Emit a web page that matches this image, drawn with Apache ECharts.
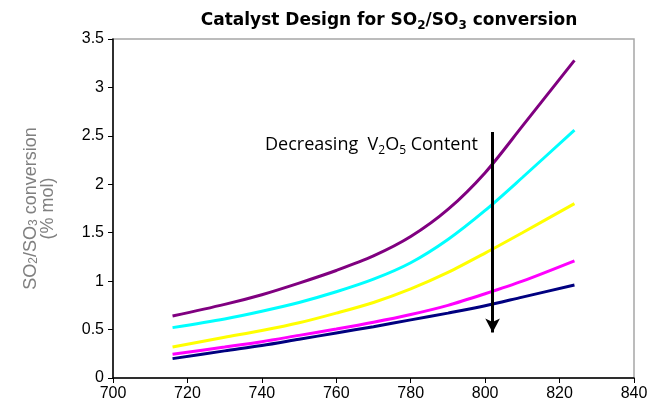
<!DOCTYPE html>
<html>
<head>
<meta charset="utf-8">
<script src="https://cdn.jsdelivr.net/npm/echarts@6/dist/echarts.min.js"></script>
<style>
  html, body { margin: 0; padding: 0; background: #fff; }
  #chart { width: 659px; height: 408px; }
</style>
</head>
<body>
<div id="chart"></div>
<script>
// Temperature points (x) shared by every curve
const temps = [716, 730, 740, 750, 760, 770, 780, 790, 800, 810, 824];

// SO2/SO3 conversion (% mol), highest V2O5 content first
const purpleSeries = [0.64, 0.76, 0.86, 0.98, 1.11, 1.26, 1.46, 1.74, 2.12, 2.60, 3.28];
const cyanSeries = [0.52, 0.61, 0.69, 0.78, 0.89, 1.02, 1.19, 1.43, 1.73, 2.07, 2.56];
const yellowSeries = [0.32, 0.42, 0.49, 0.57, 0.67, 0.78, 0.92, 1.09, 1.29, 1.50, 1.80];
const magentaSeries = [0.245, 0.32, 0.375, 0.44, 0.505, 0.575, 0.655, 0.75, 0.87, 1.0, 1.21];
const navySeries = [0.20, 0.28, 0.335, 0.40, 0.465, 0.53, 0.60, 0.67, 0.745, 0.835, 0.96];

// Arrow showing the decreasing V2O5 trend
const arrowX = 802;
const arrowFrom = 2.54;
const arrowTo = 0.47;

const chart = echarts.init(document.getElementById("chart"));

const makeSeries = (values, color) => ({
  type: "line",
  smooth: 0.3,
  symbol: "none",
  lineStyle: { color: color, width: 3 },
  data: temps.map((t, i) => [t, values[i]]),
});

const option = {
  animation: false,
  title: {
    text: "{a|Catalyst Design for SO}{s|2}{a|/SO}{s|3}{a| conversion}",
    left: 384,
    textAlign: "center",
    top: 5,
    textStyle: {
      rich: {
        a: {
          fontFamily: "DejaVu Sans",
          fontWeight: "bold",
          fontSize: 17,
          color: "#000",
          lineHeight: 22,
          verticalAlign: "middle",
        },
        s: {
          fontFamily: "DejaVu Sans",
          fontWeight: "bold",
          fontSize: 12,
          color: "#000",
          lineHeight: 22,
          verticalAlign: "bottom",
        },
      },
    },
  },
  grid: {
    left: 113,
    right: 25,
    top: 39,
    bottom: 30,
    show: true,
    borderColor: "#a6a6a6",
    borderWidth: 1.5,
  },
  xAxis: {
    type: "value",
    min: 700,
    max: 840,
    interval: 20,
    axisLine: { show: true, lineStyle: { color: "#000", width: 1.5 } },
    axisTick: { show: true, inside: false, length: 5, lineStyle: { color: "#000" } },
    axisLabel: {
      color: "#000",
      fontFamily: "Liberation Sans",
      fontSize: 16,
      margin: 8,
    },
    splitLine: { show: false },
  },
  yAxis: {
    type: "value",
    min: 0,
    max: 3.5,
    interval: 0.5,
    name: "{n|SO}{s|2}{n|/SO}{s|3}{n| conversion}\n{n|(% mol)}",
    nameLocation: "middle",
    nameGap: 56,
    nameTextStyle: {
      rich: {
        n: {
          fontFamily: "Liberation Sans",
          fontSize: 18,
          color: "#808080",
          lineHeight: 17,
        },
        s: {
          fontFamily: "Liberation Sans",
          fontSize: 12,
          color: "#808080",
          lineHeight: 17,
          verticalAlign: "bottom",
        },
      },
    },
    axisLine: { show: true, lineStyle: { color: "#000", width: 1.5 } },
    axisTick: { show: true, inside: false, length: 5, lineStyle: { color: "#000" } },
    axisLabel: {
      color: "#000",
      fontFamily: "Liberation Sans",
      fontSize: 16,
      margin: 9,
    },
    splitLine: { show: false },
  },
  series: [
    makeSeries(purpleSeries, "#800080"),
    makeSeries(cyanSeries, "#00ffff"),
    makeSeries(yellowSeries, "#ffff00"),
    makeSeries(magentaSeries, "#ff00ff"),
    makeSeries(navySeries, "#000080"),
    {
      type: "line",
      data: [],
      markLine: {
        silent: true,
        symbol: ["none", "arrow"],
        symbolSize: [11, 14],
        label: { show: false },
        lineStyle: { color: "#000", width: 3, type: "solid" },
        data: [[{ coord: [arrowX, arrowFrom] }, { coord: [arrowX, arrowTo] }]],
      },
    },
  ],
  graphic: [
    {
      type: "text",
      left: 265,
      top: 136,
      style: {
        text: "{t|Decreasing  V}{s|2}{t|O}{s|5}{t| Content}",
        rich: {
          t: { fontFamily: "Open Sans", fontSize: 18, fill: "#000", lineHeight: 24 },
          s: { fontFamily: "Open Sans", fontSize: 12, fill: "#000", lineHeight: 24, verticalAlign: "bottom" },
        },
      },
    },
  ],
};

chart.setOption(option);
</script>
</body>
</html>
